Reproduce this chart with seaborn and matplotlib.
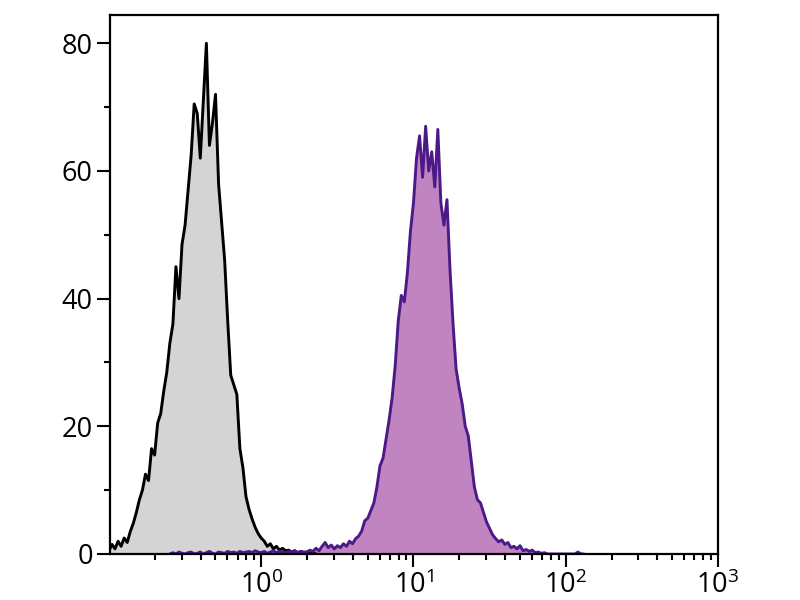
import numpy as np
import matplotlib
matplotlib.use("Agg")
from matplotlib import pyplot as plt
from matplotlib import ticker
import seaborn as sns

# histogram bins: log10 of the fluorescence channel, 0.02 decade steps
BIN_STEP = 0.02

# isotype control (gray), first bin at log10 = -1.00
control_start = -1.00
control_counts = [
    0.5, 1.5, 0.8, 2.0, 1.2, 2.5, 1.8, 3.5, 4.8, 6.5,
    8.5, 10.0, 12.5, 11.5, 16.5, 15.5, 20.5, 22.0, 25.5, 28.5,
    33.0, 36.0, 45.0, 40.0, 48.5, 51.5, 57.0, 62.5, 70.5, 69.0,
    62.0, 71.0, 80.0, 64.0, 67.5, 72.0, 58.0, 52.0, 46.0, 36.5,
    28.0, 26.5, 25.0, 16.5, 13.5, 9.0, 7.0, 5.5, 4.2, 3.2,
    2.5, 2.0, 1.2, 1.6, 0.8, 1.2, 0.6, 0.9, 0.5, 0.6,
    0.3, 0.5, 0.2, 0.4, 0.2, 0.3, 0.1, 0.2, 0.0,
]

# stained sample (purple), first bin at log10 = -0.60
stained_start = -0.60
stained_counts = [
    0.0, 0.2, 0.0, 0.3, 0.1, 0.0, 0.2, 0.3, 0.0, 0.1,
    0.3, 0.0, 0.2, 0.4, 0.1, 0.0, 0.3, 0.2, 0.1, 0.4,
    0.2, 0.3, 0.1, 0.4, 0.2, 0.3, 0.4, 0.2, 0.5, 0.3,
    0.2, 0.4, 0.1, 0.3, 0.5, 0.2, 0.4, 0.3, 0.1, 0.4,
    0.3, 0.5, 0.2, 0.4, 0.3,
    0.3, 0.6, 0.4, 0.9, 0.5, 1.2, 1.8, 1.0, 1.4, 0.8,
    1.3, 1.0, 1.6, 1.2, 2.0, 1.6, 2.4, 2.8, 3.6, 5.2,
    5.6, 6.8, 8.0, 10.5, 13.8, 15.0, 18.0, 21.0, 24.5, 29.5,
    36.5, 40.5, 39.5, 44.0, 50.5, 55.0, 62.0, 65.5, 59.0, 67.0,
    60.0, 63.0, 57.5, 66.5, 55.0, 51.5, 55.5, 44.5, 36.0, 29.0,
    26.0, 23.5, 20.0, 18.5, 14.5, 10.5, 8.5, 8.0, 6.5, 5.0,
    4.0, 3.0, 2.4, 1.9, 2.2, 1.5, 1.8, 1.0, 1.2, 0.8,
    1.3, 0.5, 0.7, 0.4, 0.6, 0.2, 0.3, 0.1, 0.2, 0.0,
    0.0, 0.0, 0.0, 0.0, 0.0, 0.0, 0.0, 0.0, 0.0, 0.3,
    0.0, 0.0,
]

x_ticks = [1, 10, 100, 1000]
y_ticks = [0, 20, 40, 60, 80]


def bin_centers(start, counts):
    return 10 ** (start + BIN_STEP * np.arange(len(counts)))


sns.set_style("ticks")
plt.rcParams["font.family"] = ["Open Sans", "DejaVu Sans"]
plt.rcParams["mathtext.fontset"] = "custom"
plt.rcParams["mathtext.rm"] = "Open Sans"
plt.rcParams["mathtext.it"] = "Open Sans"

f = plt.figure(figsize=(8, 6), dpi=100)
ax = f.add_axes([0.1375, 0.0767, 0.76, 0.898])

series = [
    (control_start, control_counts, "#d4d4d4", "#000000"),
    (stained_start, stained_counts, "#c084c0", "#4b1a88"),
]

for start, counts, face, edge in series:
    x = bin_centers(start, counts)
    y = np.asarray(counts)
    ax.fill_between(x, 0, y, color=face, linewidth=0, zorder=1)
    sns.lineplot(x=x, y=y, color=edge, linewidth=2.1, ax=ax, zorder=2)

ax.set_xscale("log")
ax.set_xlim(10 ** -0.993, 10 ** 3.0)
ax.set_ylim(0, 84.4)

ax.xaxis.set_major_locator(ticker.FixedLocator(x_ticks))
ax.xaxis.set_minor_locator(ticker.LogLocator(base=10, subs=np.arange(2, 10)))
ax.xaxis.set_minor_formatter(ticker.NullFormatter())
ax.set_xticklabels([r"$10^{%d}$" % int(np.log10(t)) for t in x_ticks])

ax.set_yticks(y_ticks)
ax.yaxis.set_minor_locator(ticker.MultipleLocator(10))

for side in ["left", "right", "top", "bottom"]:
    ax.spines[side].set_visible(True)
    ax.spines[side].set_linewidth(1.6)
    ax.spines[side].set_color("black")

ax.tick_params(axis="both", which="major", direction="out", length=9.5,
               width=1.5, color="black", labelcolor="black", labelsize=19.5,
               pad=3)
ax.tick_params(axis="x", which="major", labelsize=19.5)
ax.tick_params(axis="both", which="minor", direction="out", length=4.3,
               width=1.5, color="black")
ax.tick_params(top=False, right=False, which="both")

ax.set_xlabel("")
ax.set_ylabel("")

f.savefig("out.png", dpi=100)
